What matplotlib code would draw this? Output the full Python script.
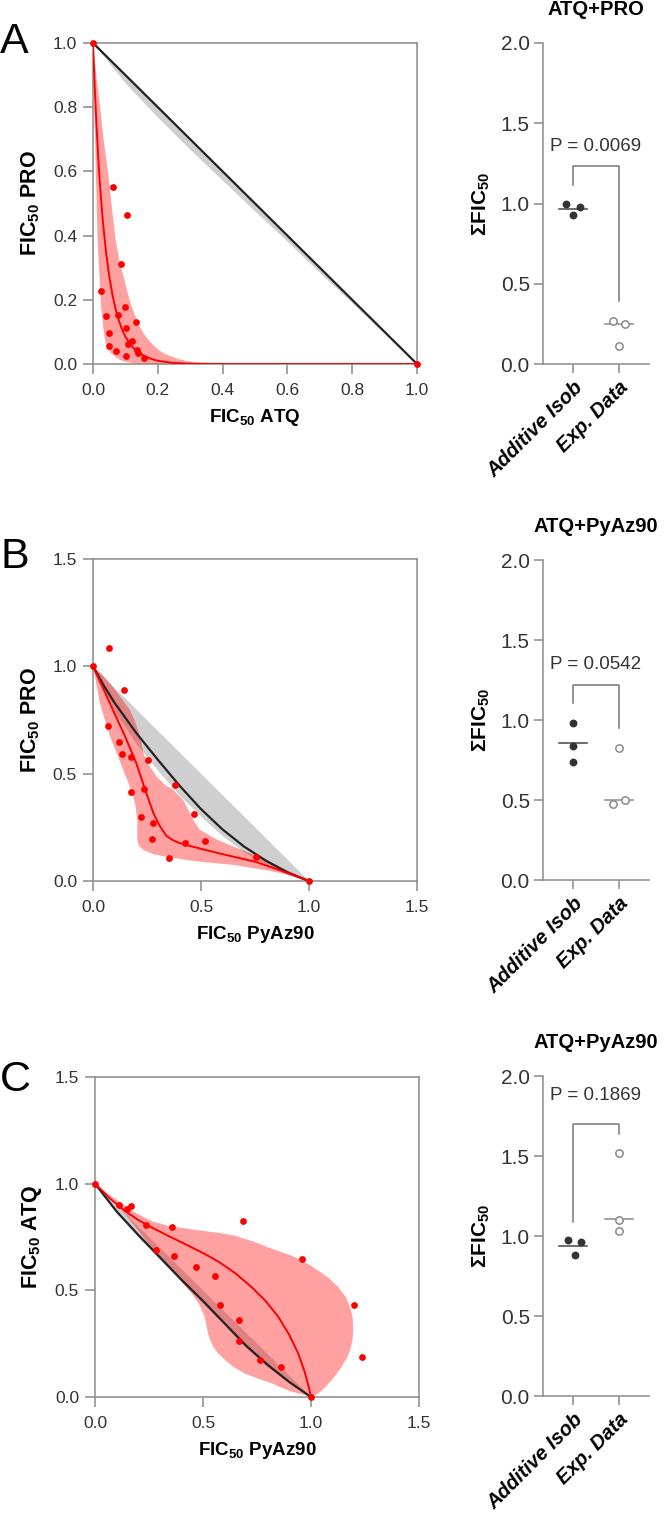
import numpy as np
import matplotlib.pyplot as plt

plt.rcParams['font.family'] = ['Liberation Sans', 'DejaVu Sans']
plt.rcParams['mathtext.fontset'] = 'custom'
plt.rcParams['mathtext.rm'] = 'Liberation Sans'
plt.rcParams['mathtext.bf'] = 'Liberation Sans:bold'

# ---------------- panel A : ATQ + PRO ----------------
a_pts_x = [0, 1, 0.062, 0.106, 0.085, 0.025, 0.098, 0.040, 0.077, 0.132, 0.103,
           0.049, 0.121, 0.108, 0.049, 0.072, 0.136, 0.139, 0.101, 0.157]
a_pts_y = [1, 0, 0.550, 0.465, 0.313, 0.226, 0.179, 0.148, 0.154, 0.130, 0.112,
           0.097, 0.071, 0.063, 0.055, 0.042, 0.045, 0.034, 0.024, 0.019]
a_fit_x = [0, 0.005, 0.01, 0.015, 0.02, 0.03, 0.04, 0.05, 0.06, 0.07, 0.08, 0.09,
           0.10, 0.12, 0.14, 0.16, 0.18, 0.20, 0.25, 0.30, 0.40, 1.0]
a_fit_y = [1, 0.87, 0.76, 0.665, 0.58, 0.45, 0.35, 0.275, 0.215, 0.17, 0.135, 0.107,
           0.085, 0.055, 0.036, 0.024, 0.016, 0.010, 0.003, 0.001, 0, 0]
a_band_x = [0, 0.01, 0.022, 0.034, 0.047, 0.058, 0.07, 0.082, 0.095, 0.107, 0.119,
            0.132, 0.145, 0.158, 0.171, 0.188, 0.205, 0.223, 0.243, 0.265, 0.29,
            0.315, 0.34, 0.37, 0.40, 1.0, 1.0, 0.16, 0.14, 0.12, 0.105, 0.09, 0.078,
            0.068, 0.058, 0.05, 0.043, 0.037, 0.031, 0.025, 0.02, 0.014, 0.009,
            0.004, 0]
a_band_y = [1, 0.90, 0.80, 0.69, 0.594, 0.49, 0.386, 0.32, 0.27, 0.222, 0.179, 0.145,
            0.115, 0.093, 0.075, 0.057, 0.042, 0.031, 0.023, 0.015, 0.009, 0.005,
            0.003, 0.001, 0.0, 0.0, 0.0, 0.0, 0.001, 0.003, 0.006, 0.01, 0.016,
            0.023, 0.031, 0.04, 0.056, 0.075, 0.12, 0.179, 0.27, 0.386, 0.594, 0.80, 1]
a_add_x = [0, 1]
a_add_y = [1, 0]
a_gray_x = [0, 0.1, 0.2, 0.3, 0.4, 0.5, 0.6, 0.7, 0.8, 0.9, 1.0]
a_gray_lo = [1, 0.875, 0.768, 0.668, 0.572, 0.476, 0.382, 0.285, 0.19, 0.095, 0]
a_gray_hi = [1, 0.905, 0.805, 0.705, 0.605, 0.503, 0.402, 0.302, 0.201, 0.1, 0]

# ---------------- panel B : PRO + PyAz90 ----------------
b_pts_x = [0, 1, 0.074, 0.145, 0.068, 0.122, 0.133, 0.177, 0.255, 0.380, 0.174,
           0.235, 0.469, 0.221, 0.278, 0.273, 0.426, 0.519, 0.352, 0.753]
b_pts_y = [1, 0, 1.084, 0.890, 0.720, 0.648, 0.590, 0.579, 0.564, 0.447, 0.415,
           0.427, 0.312, 0.297, 0.269, 0.196, 0.175, 0.185, 0.106, 0.113]
b_fit_x = [0, 0.05, 0.10, 0.15, 0.20, 0.22, 0.25, 0.28, 0.31, 0.34, 0.37, 0.40,
           0.45, 0.50, 0.60, 0.75, 0.88, 1.0]
b_fit_y = [1, 0.89, 0.78, 0.67, 0.55, 0.49, 0.40, 0.315, 0.255, 0.21, 0.19, 0.177,
           0.163, 0.15, 0.125, 0.09, 0.045, 0]
b_band_x = [0, 0.04, 0.079, 0.125, 0.171, 0.198, 0.218, 0.233, 0.262, 0.295, 0.335,
            0.372, 0.418, 0.449, 0.47, 0.495, 0.57, 0.65, 0.73, 0.804, 0.90, 1.0,
            0.90, 0.804, 0.65, 0.495, 0.42, 0.341, 0.28, 0.233, 0.212, 0.205, 0.205,
            0.198, 0.187, 0.165, 0.140, 0.11, 0.079, 0.055, 0.032, 0]
b_band_y = [1, 0.965, 0.92, 0.86, 0.796, 0.735, 0.672, 0.595, 0.535, 0.486, 0.447,
            0.424, 0.377, 0.315, 0.275, 0.238, 0.195, 0.16, 0.128, 0.098, 0.05, 0.0,
            0.03, 0.05, 0.075, 0.09, 0.1, 0.113, 0.125, 0.144, 0.165, 0.191, 0.284,
            0.34, 0.393, 0.455, 0.517, 0.595, 0.672, 0.75, 0.828, 1]
b_add_x = [0, 0.05, 0.1, 0.2, 0.3, 0.4, 0.5, 0.6, 0.7, 0.8, 0.9, 1.0]
b_add_y = [1, 0.91, 0.83, 0.69, 0.565, 0.445, 0.335, 0.24, 0.16, 0.095, 0.04, 0]
b_gray_lo = [1, 0.89, 0.79, 0.64, 0.515, 0.40, 0.30, 0.21, 0.135, 0.075, 0.03, 0]
b_gray_hi = [1, 0.95, 0.9, 0.8, 0.7, 0.6, 0.5, 0.4, 0.3, 0.2, 0.1, 0]

# ---------------- panel C : ATQ + PyAz90 ----------------
c_pts_x = [0, 1, 0.111, 0.147, 0.165, 0.235, 0.355, 0.687, 0.281, 0.366, 0.466,
           0.556, 0.960, 0.579, 1.198, 0.668, 0.667, 0.762, 0.860, 1.236]
c_pts_y = [1, 0, 0.899, 0.883, 0.893, 0.807, 0.798, 0.823, 0.689, 0.663, 0.610,
           0.566, 0.645, 0.429, 0.429, 0.362, 0.263, 0.173, 0.140, 0.187]
c_fit_x = [0, 0.07, 0.139, 0.2, 0.262, 0.34, 0.417, 0.5, 0.571, 0.65, 0.725, 0.79,
           0.849, 0.9, 0.941, 0.97, 0.99, 1.0]
c_fit_y = [1, 0.93, 0.872, 0.83, 0.795, 0.755, 0.717, 0.675, 0.635, 0.58, 0.515,
           0.45, 0.375, 0.29, 0.204, 0.12, 0.045, 0]
c_band_x = [0, 0.05, 0.108, 0.185, 0.26, 0.340, 0.42, 0.494, 0.57, 0.648, 0.73,
            0.802, 0.86, 0.910, 0.975, 1.034, 1.085, 1.127, 1.16, 1.181, 1.193,
            1.196, 1.192, 1.181, 1.165, 1.142, 1.12, 1.096, 1.065, 1.034, 1.003,
            0.96, 0.910, 0.865, 0.818, 0.755, 0.694, 0.645, 0.602, 0.565, 0.540,
            0.525, 0.517, 0.508, 0.48, 0.448, 0.40, 0.355, 0.31, 0.262, 0.2, 0.139,
            0.07, 0]
c_band_y = [1, 0.96, 0.919, 0.865, 0.825, 0.802, 0.79, 0.779, 0.77, 0.756, 0.73,
            0.701, 0.68, 0.663, 0.63, 0.593, 0.555, 0.515, 0.47, 0.421, 0.37,
            0.313, 0.265, 0.219, 0.18, 0.142, 0.11, 0.079, 0.045, 0.017, 0,
            0.012, 0.025, 0.043, 0.064, 0.086, 0.110, 0.138, 0.173, 0.21, 0.250,
            0.29, 0.328, 0.375, 0.44, 0.484, 0.54, 0.593, 0.647, 0.701, 0.78, 0.857,
            0.93, 1]
c_add_x = [0, 0.1, 0.2, 0.3, 0.4, 0.5, 0.6, 0.7, 0.8, 0.9, 1.0]
c_add_y = [1, 0.87, 0.76, 0.655, 0.55, 0.45, 0.345, 0.24, 0.15, 0.07, 0]
c_gray_lo = [1, 0.86, 0.75, 0.645, 0.54, 0.44, 0.335, 0.23, 0.14, 0.065, 0]
c_gray_hi = [1, 0.9, 0.8, 0.7, 0.6, 0.5, 0.4, 0.3, 0.2, 0.1, 0]

# ---------------- sum FIC50 panels ----------------
groups = ['Additive Isob', 'Exp. Data']
sum_titles = ['ATQ+PRO', 'ATQ+PyAz90', 'ATQ+PyAz90']
add_vals = [[1.00, 0.98, 0.93], [0.979, 0.840, 0.740], [0.974, 0.963, 0.880]]
exp_vals = [[0.266, 0.249, 0.11], [0.827, 0.473, 0.50], [1.52, 1.10, 1.03]]
add_center = [0.966, 0.854, 0.938]
exp_center = [0.249, 0.50, 1.105]
add_jit = [[-0.145, 0.145, 0], [0, 0, 0], [-0.11, 0.18, 0.036]]
exp_jit = [[-0.138, 0.13, 0], [0, -0.138, 0.13], [0, 0, 0]]
p_text = ['P = 0.0069', 'P = 0.0542', 'P = 0.1869']
brk_left = [1.117, 1.104, 1.089]
brk_top = [1.236, 1.219, 1.70]
brk_right = [0.39, 0.948, 1.64]
p_y = [1.356, 1.344, 1.88]

W, H = 666, 1525
fig = plt.figure(figsize=(W / 100, H / 100), dpi=100)


def box(x0, y0, x1, y1):
    return [x0 / W, 1 - y1 / H, (x1 - x0) / W, (y1 - y0) / H]


def isobol(rect, pts_x, pts_y, fit_x, fit_y, band_x, band_y, add_x, add_y,
           gray_x, gray_lo, gray_hi, lim, ticks, xlab, ylab):
    ax = fig.add_axes(rect)
    ax.fill_between(gray_x, gray_lo, gray_hi, color='#cfcfcf', lw=0, zorder=1)
    ax.fill(band_x, band_y, color='red', alpha=0.37, lw=0, zorder=2)
    ax.plot(add_x, add_y, color='#222222', lw=1.6, zorder=3)
    ax.plot(fit_x, fit_y, color='red', lw=1.4, zorder=4)
    ax.scatter(pts_x, pts_y, s=24, color='red', lw=0, zorder=5, clip_on=False)
    ax.set_xlim(0, lim)
    ax.set_ylim(0, lim)
    ax.set_xticks(ticks)
    ax.set_yticks(ticks)
    ax.set_xticklabels(['%.1f' % t for t in ticks])
    ax.set_yticklabels(['%.1f' % t for t in ticks])
    for s in ax.spines.values():
        s.set_color('#8a8a8a')
        s.set_linewidth(1.1)
    ax.tick_params(direction='out', length=7.5, width=1.1, color='#8a8a8a',
                   labelcolor='#333333', labelsize=12.5, pad=4)
    ax.tick_params(axis='x', pad=6)
    ax.set_xlabel(xlab, fontsize=13.5, fontweight='bold', labelpad=7)
    ax.set_ylabel(ylab, fontsize=15.5, fontweight='bold', labelpad=8)
    return ax


isobol(box(93, 43, 417, 364), a_pts_x, a_pts_y, a_fit_x, a_fit_y, a_band_x, a_band_y,
       a_add_x, a_add_y, a_gray_x, a_gray_lo, a_gray_hi, 1.0,
       [0, 0.2, 0.4, 0.6, 0.8, 1.0],
       r'FIC$_{\mathbf{50}}$ ATQ', r'FIC$_{\mathbf{50}}$ PRO')
isobol(box(93, 559, 417, 881), b_pts_x, b_pts_y, b_fit_x, b_fit_y, b_band_x, b_band_y,
       b_add_x, b_add_y, b_add_x, b_gray_lo, b_gray_hi, 1.5, [0, 0.5, 1.0, 1.5],
       r'FIC$_{\mathbf{50}}$ PyAz90', r'FIC$_{\mathbf{50}}$ PRO')
isobol(box(95, 1077, 419, 1397), c_pts_x, c_pts_y, c_fit_x, c_fit_y, c_band_x, c_band_y,
       c_add_x, c_add_y, c_add_x, c_gray_lo, c_gray_hi, 1.5, [0, 0.5, 1.0, 1.5],
       r'FIC$_{\mathbf{50}}$ PyAz90', r'FIC$_{\mathbf{50}}$ ATQ')

sum_boxes = [box(543, 43, 649, 364), box(543, 560, 649, 880), box(543, 1076, 649, 1396)]
for i in range(3):
    ax = fig.add_axes(sum_boxes[i])
    cx = np.arange(len(groups))
    ax.scatter(cx[0] + np.array(add_jit[i]), add_vals[i], s=32, color='#333333',
               lw=0, zorder=3)
    ax.scatter(cx[1] + np.array(exp_jit[i]), exp_vals[i], s=28, facecolor='white',
               edgecolor='#8a8a8a', lw=1.1, zorder=3)
    ax.plot([cx[0] - 0.31, cx[0] + 0.31], [add_center[i]] * 2, color='#444444', lw=1.1)
    ax.plot([cx[1] - 0.31, cx[1] + 0.31], [exp_center[i]] * 2, color='#8a8a8a', lw=1.1)
    ax.plot([cx[0], cx[0], cx[1], cx[1]],
            [brk_left[i], brk_top[i], brk_top[i], brk_right[i]], color='#777777', lw=1.1)
    ax.text(0.5, p_y[i], p_text[i], ha='center', va='center', fontsize=13.5,
            color='#333333')
    ax.set_xlim(-0.652, 1.652)
    ax.set_ylim(0, 2.0)
    ax.set_yticks([0, 0.5, 1.0, 1.5, 2.0])
    ax.set_yticklabels(['0.0', '0.5', '1.0', '1.5', '2.0'])
    ax.set_xticks(cx)
    ax.set_xticklabels(groups, rotation=45, ha='right', rotation_mode='anchor',
                       fontsize=14.5, fontweight='bold', fontstyle='italic')
    ax.spines['top'].set_visible(False)
    ax.spines['right'].set_visible(False)
    for s in ['left', 'bottom']:
        ax.spines[s].set_color('#8a8a8a')
        ax.spines[s].set_linewidth(1.1)
    ax.tick_params(direction='out', length=6.5, width=1.1, color='#8a8a8a')
    ax.tick_params(axis='y', labelsize=15, labelcolor='#333333', pad=3)
    ax.set_ylabel('ΣFIC$_{\\mathbf{50}}$', fontsize=15, fontweight='bold', labelpad=6)
    ax.set_title(sum_titles[i], fontsize=14.5, fontweight='bold', pad=20)

fig.text(0.0, 1 - 22 / H, 'A', fontsize=31, va='top')
fig.text(0.0, 1 - 537 / H, 'B', fontsize=31, va='top')
fig.text(0.0, 1 - 1060 / H, 'C', fontsize=31, va='top')

fig.savefig('out.png', dpi=100)
